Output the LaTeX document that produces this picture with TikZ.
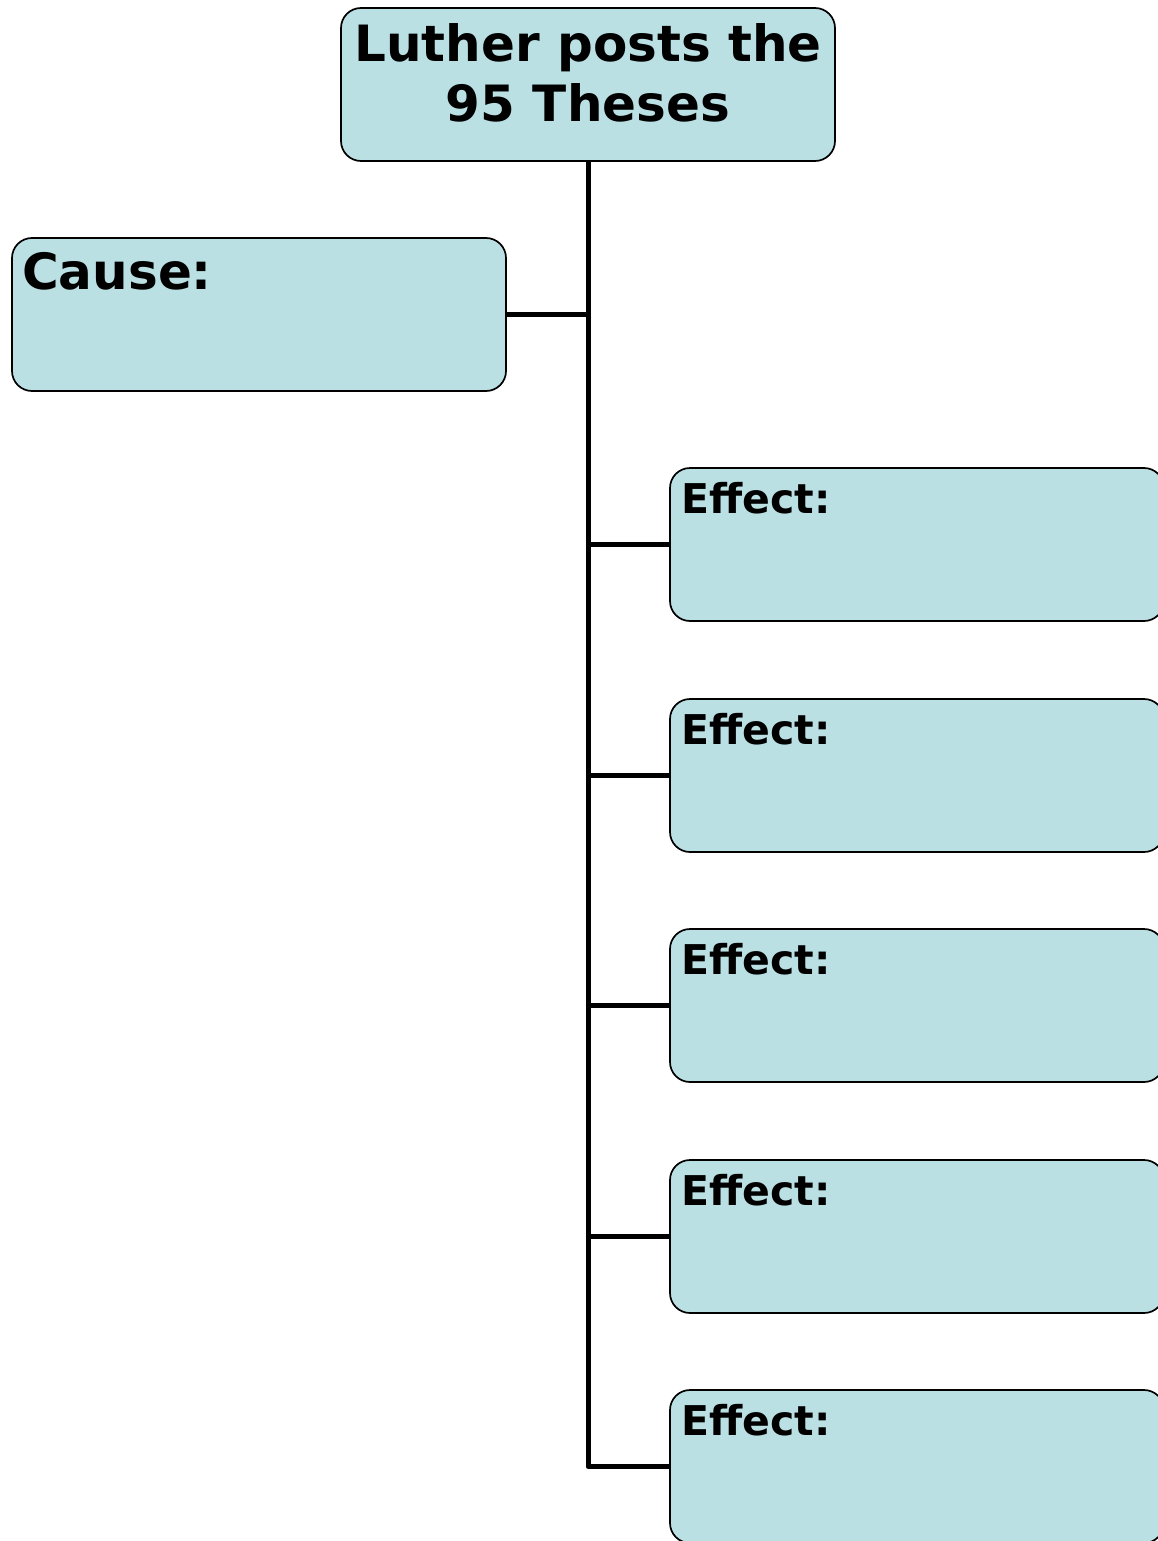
\documentclass[tikz,border=0pt]{standalone}
\usepackage{fontspec}
\setmainfont{DejaVu Sans}
\definecolor{boxfill}{RGB}{186,224,228}
\begin{document}
\begin{tikzpicture}[x=1pt,y=-1pt,
  box/.style={draw=black, line width=1.7pt, fill=boxfill, rounded corners=20pt,
    rectangle, minimum width=494pt, minimum height=153pt, inner sep=0pt},
  boxtext/.style={inner sep=0pt, font=\bfseries},
  link/.style={line width=5pt, draw=black, line join=round}]
\useasboundingbox (0,0) rectangle (1158,1541);
\clip (0,0) rectangle (1158,1541);
% boxes
\node[box] (top) at (588,84.5) {};
\node[box] (cause) at (259,314.5) {};
\node[box] (e1) at (917,544.5) {};
\node[box] (e2) at (917,775.5) {};
\node[box] (e3) at (917,1005.5) {};
\node[box] (e4) at (917,1236.5) {};
\node[box] (e5) at (917,1466.5) {};
% texts
\node[boxtext, align=center, anchor=base, font=\bfseries\fontsize{50pt}{60pt}\selectfont] (toptext) at (588,122) {Luther posts the\\95 Theses};
\node[boxtext, anchor=base west, font=\bfseries\fontsize{50pt}{60pt}\selectfont] (causetext) at (22,289) {Cause:};
\foreach \n/\y in {e1/513,e2/744,e3/974,e4/1205,e5/1435}{
  \node[boxtext, anchor=base west, font=\bfseries\fontsize{41pt}{49pt}\selectfont] (\n text) at (681,\y) {Effect:};
}
% connectors
\draw[link] (top.south) |- (e5.west);
\draw[link] (cause.east) -- (cause.east -| top.south);
\foreach \n in {e1,e2,e3,e4}{
  \draw[link] (\n.west) -- (\n.west -| top.south);
}
\end{tikzpicture}
\end{document}
